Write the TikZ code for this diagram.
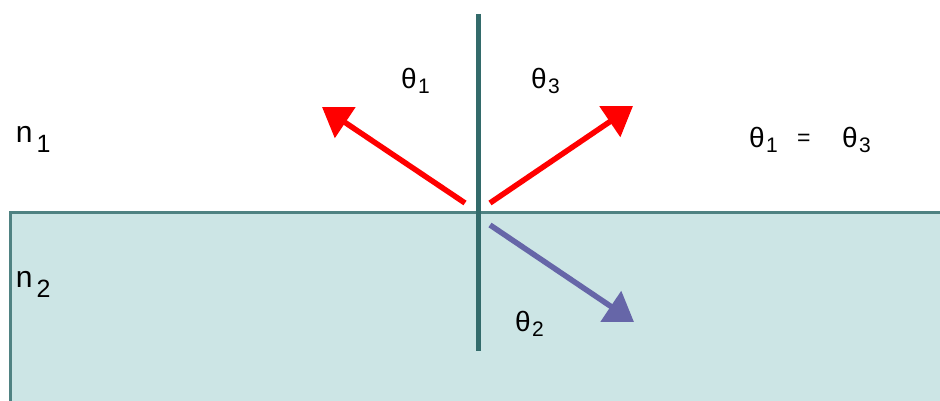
\documentclass[tikz,border=0pt]{standalone}
\usepackage{fontspec}
\setmainfont{Liberation Sans}
\usetikzlibrary{arrows.meta}
\definecolor{medium}{HTML}{CCE5E5}
\definecolor{edgeteal}{HTML}{4F8282}
\definecolor{normalteal}{HTML}{336B6B}
\definecolor{refrblue}{HTML}{6666A8}
\newcommand{\thsub}[1]{{\fontsize{28}{28}\selectfont θ}\kern1.5pt\raisebox{-5pt}{\fontsize{21}{21}\selectfont #1}}
\newcommand{\nsub}[1]{{\fontsize{30}{30}\selectfont n}\kern4pt\raisebox{-10pt}{\fontsize{25}{25}\selectfont #1}}
\tikzset{
  lbl/.style={inner sep=0pt, outer sep=0pt, anchor=base west},
  ray/.style={line width=5.5pt, -{Triangle[length=28pt,width=36pt]}},
}
\begin{document}
\begin{tikzpicture}[x=1pt,y=1pt]
\useasboundingbox (0,0) rectangle (940,401);
\fill[white] (0,0) rectangle (940,401);
% medium 2
\draw[edgeteal, line width=3pt, fill=medium] (10,-5) rectangle (948,188);
% normal
\coordinate (ntop) at (478,387);
\coordinate (nbot) at (478,50);
\draw[normalteal, line width=5pt] (ntop) -- (nbot);
% rays
\coordinate (inc) at (465,198);
\coordinate (inctip) at (322,294);
\coordinate (refl) at (490,198);
\coordinate (refltip) at (633,295);
\coordinate (refr) at (490,176);
\coordinate (refrtip) at (634,79);
\draw[ray, red] (inc) -- (inctip);
\draw[ray, red] (refl) -- (refltip);
\draw[ray, refrblue] (refr) -- (refrtip);
% labels
\node[lbl] (t1) at (401,312) {\thsub{1}};
\node[lbl] (t3) at (531,312) {\thsub{3}};
\node[lbl] (t2) at (515,69) {\thsub{2}};
\node[lbl] (n1) at (16,258) {\nsub{1}};
\node[lbl] (n2) at (16,113) {\nsub{2}};
\node[lbl] (eqa) at (749,253) {\thsub{1}};
\node[lbl] (eqs) at (797,255) {\fontsize{23}{23}\selectfont =};
\node[lbl] (eqb) at (842,253) {\thsub{3}};
\end{tikzpicture}
\end{document}
